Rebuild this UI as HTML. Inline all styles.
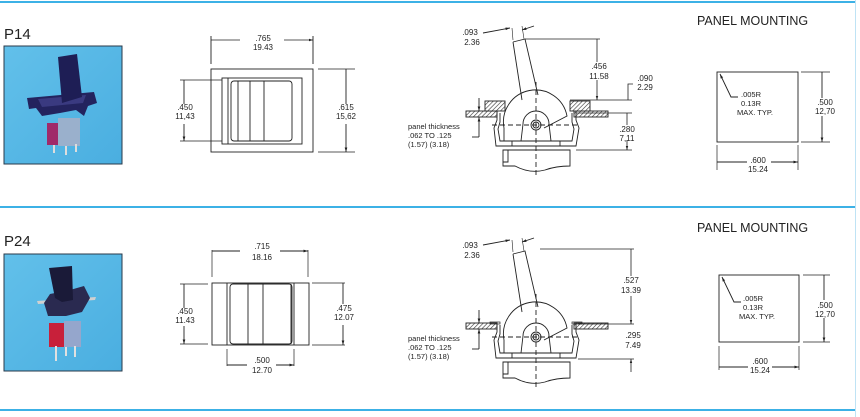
<!DOCTYPE html>
<html><head><meta charset="utf-8"><style>
html,body{margin:0;padding:0;background:#fff;width:860px;height:417px;overflow:hidden}
svg{display:block}
text{font-family:"Liberation Sans",sans-serif;fill:#222}
.d{font-size:8px;text-anchor:middle}
.s{font-size:7.5px}
</style></head><body>
<svg width="860" height="417" viewBox="0 0 860 417" xmlns="http://www.w3.org/2000/svg">
<defs>
<pattern id="h" width="3" height="3" patternUnits="userSpaceOnUse" patternTransform="rotate(45)"><rect width="3" height="3" fill="#fff"/><line x1="0" y1="0" x2="0" y2="3" stroke="#333" stroke-width="1.2"/></pattern>
<marker id="a" viewBox="0 0 10 10" refX="10" refY="5" markerWidth="5" markerHeight="5" orient="auto-start-reverse"><path d="M0,2 L10,5 L0,8z" fill="#222"/></marker>
<linearGradient id="bg" x1="0" y1="0" x2="1" y2="1"><stop offset="0" stop-color="#62c0ea"/><stop offset="1" stop-color="#4aaee0"/></linearGradient>

<g id="side" fill="none" stroke="#222" stroke-width="0.9">
  <rect x="466" y="111" width="31" height="6" fill="url(#h)"/>
  <rect x="574" y="111" width="34" height="6" fill="url(#h)"/>
  <path d="M490,111 L497,111 L497,120 L494,128 L496,146 L576,146 L579,128 L576,120 L576,111 L582,111" />
  <path d="M500,113 L500,122 L498,129 L500,141 L572,141 L574,129 L572,122 L572,113"/>
  <path d="M504,128 A32,32 0 0 1 567,116 L544,128"/>
  <path d="M504,128 L504,141"/>
  <path d="M513,42 L525,39 L538,95 M513,42 L522,100"/>
  <path d="M521,141 L523,124 A13,13 0 0 1 549,124 L551,141"/>
  <circle cx="536" cy="125" r="5"/><circle cx="536" cy="125" r="3"/>
  <rect x="512" y="141" width="48" height="5"/>
  <path d="M503,150 L570,150 L570,166 Q556,166 545,170 Q530,174 515,166 L503,166 Z"/>
  <path d="M508,150 L508,162 L503,162"/>
  <path d="M536,82 L536,175" stroke-dasharray="5,3"/>
  <path d="M492,125 L578,125" stroke-dasharray="5,3"/>
  <path d="M483,33 L510,28" marker-end="url(#a)"/>
  <path d="M522,30 L534,26" marker-start="url(#a)"/>
  <path d="M512,28 L513,40 M522,26 L524,39" stroke-width="0.6"/>
  <path d="M479,98 L479,111" marker-end="url(#a)"/>
  <path d="M479,137 L479,117" marker-end="url(#a)"/>
  <path d="M472,137 L479,137"/>
</g>
</defs>

<rect x="0" y="1" width="856" height="2" fill="#3cb1e6"/>
<rect x="0" y="206" width="856" height="2" fill="#3cb1e6"/>
<rect x="0" y="409" width="856" height="2" fill="#3cb1e6"/>
<rect x="855" y="0" width="1" height="417" fill="#bfe3f5"/>

<!-- ===== P14 ===== -->
<text x="4" y="39" font-size="15">P14</text>
<rect x="4" y="46" width="118" height="118" fill="url(#bg)" stroke="#2a3a4a" stroke-width="1"/>
<g>
  <rect x="47" y="123" width="14" height="22" fill="#a02a6a"/>
  <rect x="58" y="118" width="22" height="28" fill="#9ab0cc"/>
  <path d="M27,98 L94,92 L97,103 L88,106 L84,116 L76,110 L60,113 L42,116 L36,108 L29,109 Z" fill="#23235e"/>
  <path d="M38,99 L86,95 L83,103 L42,107 Z" fill="#3a3a80"/>
  <path d="M58,57 L77,54 L82,97 L62,103 Z" fill="#1e1e55"/>
  <line x1="54" y1="145" x2="54" y2="153" stroke="#ddd" stroke-width="2"/>
  <line x1="66" y1="146" x2="66" y2="155" stroke="#ddd" stroke-width="2"/>
  <line x1="76" y1="144" x2="76" y2="152" stroke="#ddd" stroke-width="2"/>
</g>

<g fill="none" stroke="#222" stroke-width="0.9">
  <rect x="211" y="69" width="102" height="83"/>
  <rect x="222" y="78" width="80" height="66"/>
  <path d="M228,78 V144"/>
  <rect x="231" y="81" width="61" height="60" rx="3"/>
  <path d="M238,81 V141 M250,81 V141 M264,81 V141"/>
  <path d="M211,36 V64 M313,36 V64"/>
  <path d="M180,80 H222 M180,141 H222" stroke-width="0.7"/>
  <path d="M184,104 V80 M184,124 V141" marker-end="url(#a)"/>
  <path d="M318,69 H355 M318,152 H355" stroke-width="0.7"/>
  <path d="M346,104 V69 M346,124 V152" marker-end="url(#a)"/>
</g>
<path d="M240,40 H211 M284,40 H313" stroke="#222" stroke-width="0.8" fill="none" marker-end="url(#a)"/>
<text class="d" x="263" y="41">.765</text><text class="d" x="263" y="50">19.43</text>
<text class="d" x="185" y="110">.450</text><text class="d" x="185" y="119">11,43</text>
<text class="d" x="346" y="110">.615</text><text class="d" x="346" y="119">15,62</text>

<use href="#side"/>
<rect x="485" y="101" width="20" height="10" fill="url(#h)" stroke="#222" stroke-width="0.9"/>
<rect x="570" y="101" width="20" height="10" fill="url(#h)" stroke="#222" stroke-width="0.9"/>
<g fill="none" stroke="#222" stroke-width="0.8">
  <path d="M525,39 H600 M570,100 H632"/>
  <path d="M597,62 V39 M597,80 V100" marker-end="url(#a)"/>
  <path d="M633,84 H628 V100" />
  <path d="M576,113 H632 M576,150 H632"/>
  <path d="M627,125 V113 M627,140 V150" marker-end="url(#a)"/>
</g>
<text class="d" x="470" y="35">.093</text><text class="d" x="472" y="45">2.36</text>
<text class="d" x="599" y="69">.456</text><text class="d" x="599" y="79">11.58</text>
<text class="d" x="645" y="81">.090</text><text class="d" x="645" y="90">2.29</text>
<text class="d" x="627" y="132">.280</text><text class="d" x="627" y="141">7,11</text>
<text class="s" x="408" y="129">panel thickness</text>
<text class="s" x="408" y="138">.062 TO .125</text>
<text class="s" x="408" y="147">(1.57)  (3.18)</text>

<text x="697" y="25" font-size="12.5">PANEL MOUNTING</text>
<g fill="none" stroke="#222" stroke-width="0.9">
  <rect x="717" y="72" width="81" height="70"/>
  <path d="M801,72 H830 M801,142 H830" stroke-width="0.7"/>
  <path d="M822,98 V72 M822,116 V142" marker-end="url(#a)"/>
  <path d="M717,145 V170 M798,145 V170" stroke-width="0.7"/>
  <path d="M747,162 H717 M771,162 H798" marker-end="url(#a)"/>
  <path d="M738,97 H731 L720,74" marker-end="url(#a)"/>
</g>
<text class="s" x="741" y="97">.005R</text><text class="s" x="741" y="106">0.13R</text><text class="s" x="737" y="115">MAX. TYP.</text>
<text class="d" x="825" y="105">.500</text><text class="d" x="825" y="114">12,70</text>
<text class="d" x="758" y="163">.600</text><text class="d" x="758" y="172">15.24</text>

<!-- ===== P24 ===== -->
<text x="4" y="246" font-size="15">P24</text>
<rect x="4" y="254" width="118" height="117" fill="url(#bg)" stroke="#2a3a4a" stroke-width="1"/>
<g>
  <rect x="49" y="323" width="16" height="24" fill="#c8203a"/>
  <rect x="64" y="321" width="17" height="26" fill="#95a6cc"/>
  <path d="M37,301 L96,297 L95,300 L38,304 Z" fill="#d0d0d0"/>
  <path d="M44,303 L50,294 L70,290 L84,286 L90,298 L82,312 L66,316 L48,316 Z" fill="#2a2a50"/>
  <path d="M49,268 L72,266 L73,300 L62,302 L55,298Z" fill="#1a1a38"/>
  <line x1="56" y1="346" x2="56" y2="361" stroke="#e0e0e0" stroke-width="2"/>
  <line x1="66" y1="347" x2="66" y2="356" stroke="#e0e0e0" stroke-width="2"/>
  <line x1="75" y1="346" x2="75" y2="357" stroke="#e0e0e0" stroke-width="2"/>
</g>

<g fill="none" stroke="#222" stroke-width="0.9">
  <rect x="212" y="283" width="97" height="62"/>
  <path d="M227,283 V345 M294,283 V345"/>
  <rect x="230" y="284" width="62" height="60" rx="3"/>
  <path d="M248,284 V344 M263,284 V344 M291,284 V344"/>
  <path d="M212,250 V277 M308,250 V277" stroke-width="0.7"/>
  <path d="M240,251 H212 M280,251 H308" marker-end="url(#a)"/>
  <path d="M180,284 H208 M180,344 H208" stroke-width="0.7"/>
  <path d="M184,308 V284 M184,326 V344" marker-end="url(#a)"/>
  <path d="M312,283 H345 M312,345 H345" stroke-width="0.7"/>
  <path d="M343,304 V283 M343,325 V345" marker-end="url(#a)"/>
  <path d="M227,349 V366 M294,349 V366" stroke-width="0.7"/>
  <path d="M247,365 H227 M276,365 H294" marker-end="url(#a)"/>
</g>
<text class="d" x="262" y="249">.715</text><text class="d" x="262" y="260">18.16</text>
<text class="d" x="185" y="314">.450</text><text class="d" x="185" y="323">11.43</text>
<text class="d" x="344" y="311">.475</text><text class="d" x="344" y="320">12.07</text>
<text class="d" x="262" y="363">.500</text><text class="d" x="262" y="373">12.70</text>

<use href="#side" transform="translate(0,212)"/>
<rect x="490" y="322" width="10" height="2" fill="none" stroke="#222" stroke-width="0.7"/>
<rect x="572" y="322" width="10" height="2" fill="none" stroke="#222" stroke-width="0.7"/>
<g fill="none" stroke="#222" stroke-width="0.8">
  <path d="M540,249 H634 M578,324 H634"/>
  <path d="M631,276 V249 M631,296 V324" marker-end="url(#a)"/>
  <path d="M578,359 H634"/>
  <path d="M631,372 V359" marker-end="url(#a)"/>
</g>
<text class="d" x="470" y="248">.093</text><text class="d" x="472" y="258">2.36</text>
<text class="d" x="631" y="283">.527</text><text class="d" x="631" y="293">13.39</text>
<text class="d" x="633" y="338">.295</text><text class="d" x="633" y="348">7.49</text>
<text class="s" x="408" y="341">panel thickness</text>
<text class="s" x="408" y="350">.062 TO .125</text>
<text class="s" x="408" y="359">(1.57)  (3.18)</text>

<text x="697" y="232" font-size="12.5">PANEL MOUNTING</text>
<g fill="none" stroke="#222" stroke-width="0.9">
  <rect x="719" y="275" width="80" height="67"/>
  <path d="M803,275 H830 M803,342 H830" stroke-width="0.7"/>
  <path d="M824,300 V275 M824,318 V342" marker-end="url(#a)"/>
  <path d="M719,346 V370 M799,346 V370" stroke-width="0.7"/>
  <path d="M748,367 H719 M772,367 H799" marker-end="url(#a)"/>
  <path d="M741,302 H734 L722,277" marker-end="url(#a)"/>
</g>
<text class="s" x="743" y="301">.005R</text><text class="s" x="743" y="310">0.13R</text><text class="s" x="739" y="319">MAX. TYP.</text>
<text class="d" x="825" y="308">.500</text><text class="d" x="825" y="317">12,70</text>
<text class="d" x="760" y="364">.600</text><text class="d" x="760" y="373">15.24</text>
</svg>
</body></html>
